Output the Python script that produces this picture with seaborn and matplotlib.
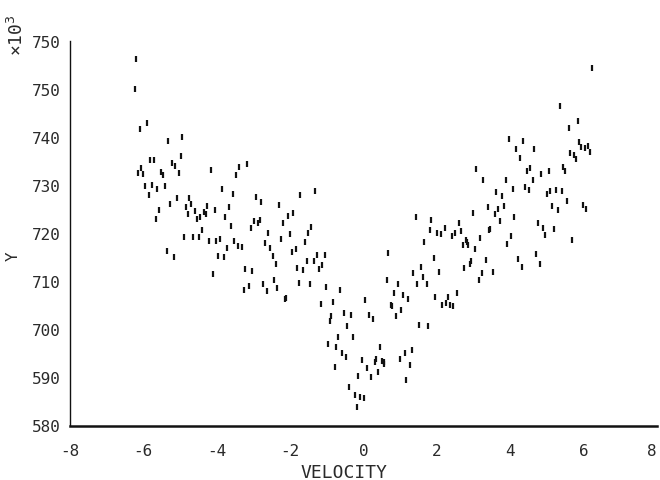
import numpy as np
import pandas as pd
import matplotlib
matplotlib.use("Agg")
import matplotlib.pyplot as plt
import seaborn as sns

# ---- data ----
vel_left = [-6.20, -6.24, -5.91, -6.10, -5.33, -4.94, -4.98, -5.82, -5.72, -6.06, -6.14, -6.00,
            -5.22, -5.13, -5.52, -5.47, -5.03, -4.16, -3.38, -3.17, -3.48, -5.96, -5.77, -5.62,
            -5.42, -5.86, -3.87, -3.57, -2.93, -5.08, -4.75,
            -2.80, -5.28, -4.84, -4.70, -4.26, -3.67, -5.57, -5.66, -4.79, -4.59, -4.34, -4.30,
            -4.06, -4.45, -4.54, -3.77, -3.62, -4.39, -4.88, -4.64, -4.49, -4.21, -4.01, -3.91,
            -3.52, -3.42, -3.32, -3.72, -2.98, -2.88, -2.83, -3.08, -2.59, -2.68, -2.55, -5.36,
            -5.17, -3.96, -3.81, -3.23, -3.04, -4.10, -3.13, -3.27, -2.73, -2.63]
y_left = [756.4, 750.1, 743.0, 741.8, 739.3, 740.0, 736.1, 735.4, 735.4, 733.7, 732.6, 732.4,
          734.6, 734.1, 732.9, 732.2, 732.6, 733.3, 733.8, 734.5, 732.1, 729.8, 730.1, 729.2,
          729.8, 728.0, 729.3, 728.2, 727.5, 727.3, 727.3,
          726.6, 726.1, 725.5, 726.1, 725.7, 725.5, 724.8, 723.0, 724.1, 724.6, 724.4, 724.0,
          724.8, 723.4, 723.0, 723.5, 721.5, 720.7, 719.3, 719.3, 719.3, 718.4, 718.4, 718.9,
          718.5, 717.4, 717.2, 717.0, 722.6, 722.1, 722.8, 721.1, 720.2, 718.0, 716.9, 716.3,
          715.1, 715.4, 715.2, 712.7, 712.2, 711.6, 709.1, 708.2, 709.4, 708.0]

vel_mid = [-1.72, -1.31, -2.29, -1.91, -2.05, -2.20, -1.42, -1.51, -2.00, -2.25, -1.60, -1.85,
           -1.95, -2.48, -2.39, -1.55, -1.36, -1.26, -1.06, -1.12, -1.22, -1.80, -1.66, -2.44,
           -2.35, -1.75, -1.45, -2.13, -2.11, -1.02, -0.63, -1.17, -0.83, 0.05, -0.88, -0.92,
           -0.53, -0.34, -0.44, 0.16, 0.25, -0.69, -0.28, -0.97, -0.74, -0.59, -0.49, -0.77,
           -0.04, 0.09, -0.14, 0.20, -0.39, -0.23, -0.09, 0.00, -0.18, 0.45, 0.32, 0.34, 0.50,
           0.55, 0.57, 0.40, 0.99, 1.13, 1.17, 1.26, 0.68, 0.64, 0.94, 0.84, 1.07, 1.22, 0.76,
           0.79, 1.03, 0.89]
y_mid = [728.0, 728.9, 725.9, 724.2, 723.7, 722.1, 721.3, 720.1, 719.8, 718.9, 718.2, 716.8,
         716.1, 715.3, 713.6, 714.3, 714.3, 715.5, 715.5, 713.4, 712.5, 712.8, 712.4, 710.3,
         708.6, 709.7, 709.4, 706.4, 706.6, 708.8, 708.2, 705.3, 705.8, 706.1, 702.8, 701.8,
         703.4, 703.0, 700.8, 703.0, 702.2, 698.5, 698.4, 696.9, 696.4, 695.0, 694.2, 692.2,
         693.6, 692.0, 690.3, 690.0, 688.0, 686.4, 686.0, 685.7, 683.9, 696.3, 693.2, 693.9,
         693.5, 693.3, 692.8, 691.2, 693.8, 695.2, 689.5, 692.5, 715.9, 710.3, 709.5, 707.7,
         707.1, 706.4, 705.1, 704.8, 704.1, 702.9]

vel_right = [3.27, 3.88, 4.61, 3.62, 3.78, 4.07, 4.41, 4.51, 4.99, 5.09, 5.24, 5.40, 5.54, 5.97,
             6.07, 5.15, 5.29, 3.38, 3.67, 3.82, 3.58, 2.99, 4.11, 3.72, 4.75, 4.89, 5.19, 4.95,
             5.67, 1.42, 1.85, 1.81, 2.01, 2.10, 2.21, 2.59, 2.50, 2.65, 2.40, 3.43, 3.46, 1.66,
             2.79, 2.82, 2.85, 2.70, 3.18, 3.04, 4.02, 3.92, 1.92, 1.57, 1.36, 1.62, 1.47, 1.73,
             2.06, 2.75, 2.89, 2.93, 3.34, 3.24, 3.53, 3.14, 4.22, 4.32, 4.70, 4.80, 1.96, 2.31,
             2.55, 2.15, 2.26, 2.36, 2.45, 1.52, 1.76, 1.32,
             6.23, 5.35, 5.85, 5.59, 3.97, 4.36, 4.16, 4.66, 4.26, 5.87, 5.94, 6.04, 6.12, 6.17,
             5.63, 5.74, 5.78, 4.55, 4.46, 4.85, 5.05, 5.44, 5.49, 3.07]
y_right = [731.2, 731.1, 731.2, 728.7, 727.9, 729.3, 729.6, 729.1, 728.2, 728.8, 729.1, 728.8,
           726.7, 726.0, 725.1, 725.7, 724.8, 725.5, 725.1, 725.7, 724.1, 724.2, 723.5, 722.6,
           722.2, 721.1, 721.0, 719.7, 718.7, 723.4, 722.9, 720.8, 720.0, 719.8, 721.1, 722.2,
           720.2, 720.5, 719.5, 720.8, 720.9, 718.3, 718.7, 718.2, 717.7, 717.5, 719.0, 716.7,
           719.5, 717.8, 714.9, 713.1, 711.8, 710.9, 709.4, 709.4, 711.9, 712.9, 713.7, 714.3,
           714.5, 711.7, 711.9, 710.4, 714.7, 713.0, 715.7, 713.7, 706.8, 706.8, 707.5, 705.2,
           705.5, 705.2, 704.9, 700.9, 700.7, 695.8,
           754.5, 746.6, 743.4, 742.0, 739.7, 739.3, 737.7, 737.7, 735.7, 739.0, 738.1, 737.8,
           738.3, 736.9, 736.8, 736.4, 735.5, 733.7, 733.0, 732.3, 733.0, 733.8, 733.0, 733.4]

x_ticks = [-8, -6, -4, -2, 0, 2, 4, 6, 8]
y_ticks = [680, 690, 700, 710, 720, 730, 740, 750, 760]
y_tick_labels = ["580", "590", "700", "710", "720", "730", "740", "750", "750"]

df = pd.DataFrame({
    "VELOCITY": vel_left + vel_mid + vel_right,
    "Y": y_left + y_mid + y_right,
})

# ---- style ----
sns.set_theme(style="white")
plt.rcParams["font.family"] = ["DejaVu Sans Mono", "DejaVu Sans"]
ink = "#111111"
label_ink = "#2a2a2a"

fig = plt.figure(figsize=(6.6, 4.81), dpi=100)
ax = fig.add_axes([70 / 660, 54.5 / 481, 587 / 660, 384 / 481])

sns.scatterplot(data=df, x="VELOCITY", y="Y", marker="|", s=14, color=ink,
                linewidth=1.6, ax=ax, legend=False)

ax.set_xlim(-8, 8)
ax.set_ylim(680, 760)
ax.set_xticks(x_ticks)
ax.set_xticklabels([str(t) for t in x_ticks])
ax.set_yticks(y_ticks)
ax.set_yticklabels(y_tick_labels)

sns.despine(ax=ax)
ax.spines["left"].set_linewidth(1.0)
ax.spines["left"].set_color(ink)
ax.spines["bottom"].set_linewidth(1.8)
ax.spines["bottom"].set_color(ink)

ax.tick_params(axis="x", direction="inout", length=11, width=1.2, pad=7,
               labelsize=11.5, colors=ink, labelcolor=label_ink)
ax.tick_params(axis="y", direction="inout", length=7, width=1.2, pad=3,
               labelsize=11.5, colors=ink, labelcolor=label_ink)
# keep the last x tick label ("8") inside the figure edge
ax.get_xticklabels()[-1].set_horizontalalignment("right")

ax.set_xlabel("VELOCITY", fontsize=13, color=label_ink)
ax.xaxis.set_label_coords(0.467, -0.122)
ax.xaxis.label.set_va("center")
ax.set_ylabel("Y", fontsize=11.5, color=label_ink)
ax.yaxis.set_label_coords(-0.097, 0.444)
ax.yaxis.label.set_va("center")

fig.text(17 / 660, 1 - 35 / 481, "×10$^3$", rotation=90, ha="center", va="center",
         fontsize=13, color=label_ink)

fig.savefig("out.png", dpi=100, facecolor="white")
